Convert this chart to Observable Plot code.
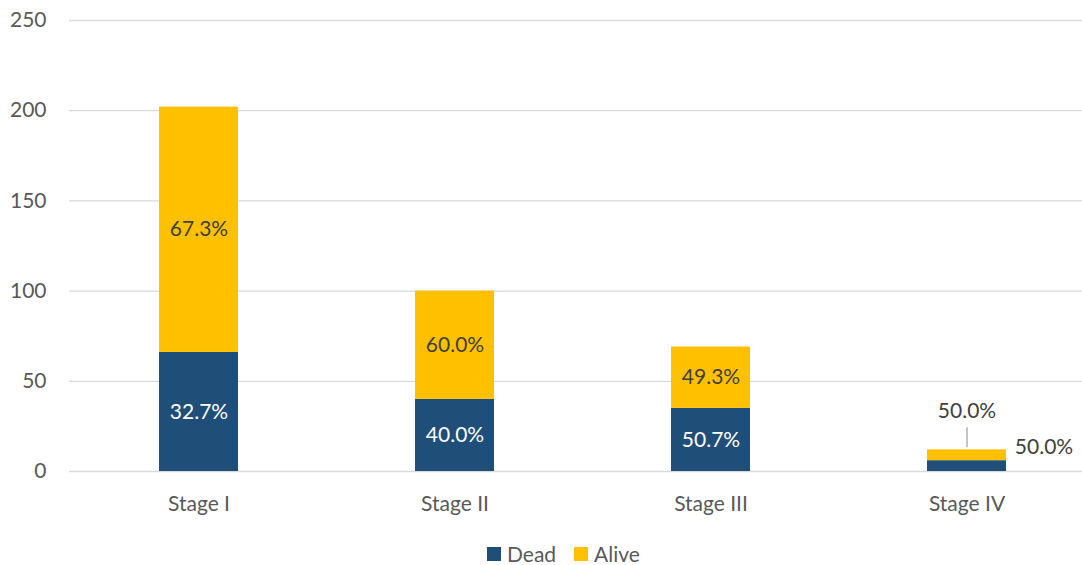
<!DOCTYPE html>
<html>
<head>
<meta charset="utf-8">
<script src="https://cdn.jsdelivr.net/npm/d3@7"></script>
<script src="https://cdn.jsdelivr.net/npm/@observablehq/plot@0.6"></script>
<style>
  html, body { margin: 0; padding: 0; background: #fff; overflow: hidden; }
  #chart { position: relative; width: 1082px; height: 565px; overflow: hidden; font-family: Lato, sans-serif; }
  #legend { position: absolute; left: 487px; top: 543px; display: flex; align-items: center; font-size: 21px; color: #595959; line-height: 1; }
  #legend .item { display: flex; align-items: center; margin-right: 18px; }
  #legend .sw { width: 14px; height: 14px; margin-right: 6px; }
</style>
</head>
<body>
<div id="chart"></div>
<script>
// Patient counts per stage, split by outcome
const stages = ["Stage I", "Stage II", "Stage III", "Stage IV"];
const dead = [66, 40, 35, 6];
const alive = [136, 60, 34, 6];
const series = ["Dead", "Alive"];
const seriesColors = ["#1F4E79", "#FFC000"];
const yTicks = [0, 50, 100, 150, 200, 250];

const pct = d3.format(".1%");
const rows = stages.flatMap((stage, i) => {
  const total = dead[i] + alive[i];
  return [
    {stage, status: "Dead", value: dead[i], total, share: dead[i] / total},
    {stage, status: "Alive", value: alive[i], total, share: alive[i] / total}
  ];
});

// The last stage is too short for labels inside its segments
const lastStage = stages[stages.length - 1];
const inside = rows.filter(d => d.stage !== lastStage);
const outsideAlive = rows.filter(d => d.stage === lastStage && d.status === "Alive");
const outsideDead = rows.filter(d => d.stage === lastStage && d.status === "Dead");

// Stack every segment first, then keep one outcome so each label sits mid-segment
const stackedLabels = (status, fill) =>
  Plot.filter(d => d.status === status,
    Plot.stackY({x: "stage", y: "value", z: "status", text: d => pct(d.share), fill}));

const chart = Plot.plot({
  width: 1082,
  height: 530,
  marginTop: 20,
  marginBottom: 59,
  marginLeft: 69,
  marginRight: -13,
  style: {fontFamily: "Lato, sans-serif", fontSize: "21px", color: "#595959", background: "transparent", overflow: "hidden"},
  x: {domain: stages, paddingInner: 0.692, paddingOuter: 0.346, label: null},
  y: {domain: [0, 250], label: null},
  color: {domain: series, range: seriesColors},
  marks: [
    Plot.gridY(yTicks, {stroke: "#d9d9d9", strokeOpacity: 1, strokeWidth: 1.3}),
    Plot.axisY(yTicks, {tickSize: 0, tickPadding: 23, label: null, fill: "#595959"}),
    Plot.axisX({tickSize: 0, tickPadding: 25, label: null, fill: "#595959"}),
    Plot.barY(rows, {x: "stage", y: "value", fill: "status"}),
    // Shares inside each segment
    Plot.text(inside, stackedLabels("Dead", "white")),
    Plot.text(inside, stackedLabels("Alive", "#404040")),
    // Shares beside the short last bar, with a leader line for the upper one
    Plot.ruleX(outsideAlive, {x: "stage", y1: "total", y2: "total", insetTop: -2, insetBottom: 22, stroke: "#a6a6a6", strokeWidth: 1.3}),
    Plot.text(outsideAlive, {x: "stage", y: "total", text: d => pct(d.share), dy: -39, fill: "#404040"}),
    Plot.text(outsideDead, {x: "stage", y: "total", text: d => pct(d.share), dx: 77, dy: -3, fill: "#404040"})
  ]
});

const root = document.getElementById("chart");
root.appendChild(chart);

const legend = document.createElement("div");
legend.id = "legend";
series.forEach((name, i) => {
  const item = document.createElement("div");
  item.className = "item";
  const sw = document.createElement("span");
  sw.className = "sw";
  sw.style.background = seriesColors[i];
  const label = document.createElement("span");
  label.textContent = name;
  item.appendChild(sw);
  item.appendChild(label);
  legend.appendChild(item);
});
root.appendChild(legend);
</script>
</body>
</html>
